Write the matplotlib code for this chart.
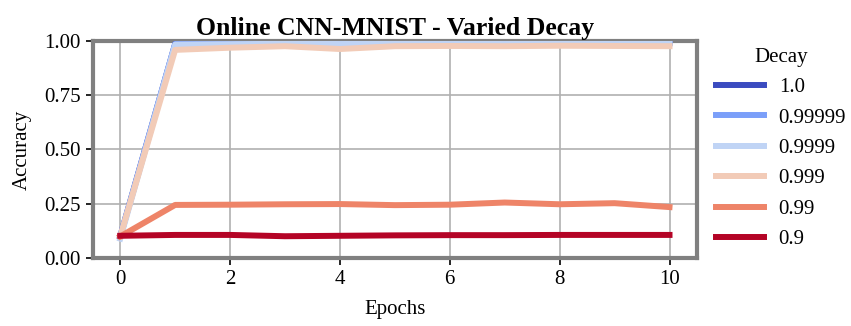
import matplotlib
matplotlib.use("Agg")
import matplotlib.pyplot as plt
import numpy as np

plt.rcParams['font.family'] = ['Liberation Serif', 'DejaVu Serif']

epochs = list(range(11))
decays = ["1.0", "0.99999", "0.9999", "0.999", "0.99", "0.9"]

acc_1_0 = [0.10, 0.985, 0.988, 0.989, 0.990, 0.990, 0.991, 0.991, 0.991, 0.991, 0.991]
acc_0_99999 = [0.10, 0.985, 0.988, 0.989, 0.989, 0.990, 0.990, 0.991, 0.991, 0.991, 0.991]
acc_0_9999 = [0.09, 0.982, 0.984, 0.986, 0.985, 0.986, 0.986, 0.985, 0.986, 0.985, 0.986]
acc_0_999 = [0.10, 0.958, 0.968, 0.975, 0.962, 0.975, 0.976, 0.975, 0.977, 0.976, 0.975]
acc_0_99 = [0.10, 0.245, 0.246, 0.248, 0.249, 0.244, 0.246, 0.256, 0.248, 0.253, 0.235]
acc_0_9 = [0.103, 0.107, 0.107, 0.101, 0.103, 0.105, 0.106, 0.106, 0.107, 0.107, 0.107]

series = [acc_1_0, acc_0_99999, acc_0_9999, acc_0_999, acc_0_99, acc_0_9]
colors = plt.cm.coolwarm(np.linspace(0, 1, len(decays)))

fig = plt.figure(figsize=(8.51, 3.26), dpi=100)
ax = fig.add_axes([0.109, 0.208, 0.710, 0.667])

for label, acc, c in zip(decays, series, colors):
    ax.plot(epochs, acc, color=c, linewidth=4.3, label=label, zorder=3)

ax.set_xlim(-0.5, 10.5)
ax.set_ylim(0.0, 1.0)
ax.set_xticks([0, 2, 4, 6, 8, 10])
ax.set_yticks([0.0, 0.25, 0.5, 0.75, 1.0])
ax.set_yticklabels(["0.00", "0.25", "0.50", "0.75", "1.00"])
ax.grid(True, color="#b0b0b0", linewidth=1.2)
ax.set_axisbelow(True)
for s in ax.spines.values():
    s.set_color("gray")
    s.set_linewidth(3)
ax.tick_params(labelsize=15, length=5, width=1.2, direction="out")

ax.set_xlabel("Epochs", fontsize=15, labelpad=8)
ax.set_ylabel("Accuracy", fontsize=15, labelpad=9)
ax.set_title("Online CNN-MNIST - Varied Decay", fontsize=18.5, fontweight="bold", pad=4)

leg = ax.legend(title="Decay", loc="upper left", bbox_to_anchor=(1.018, 1.006),
                frameon=False, fontsize=15, title_fontsize=15,
                handlelength=2.3, handletextpad=0.7, labelspacing=0.52,
                borderaxespad=0.0)

fig.savefig("out.png", dpi=100)
